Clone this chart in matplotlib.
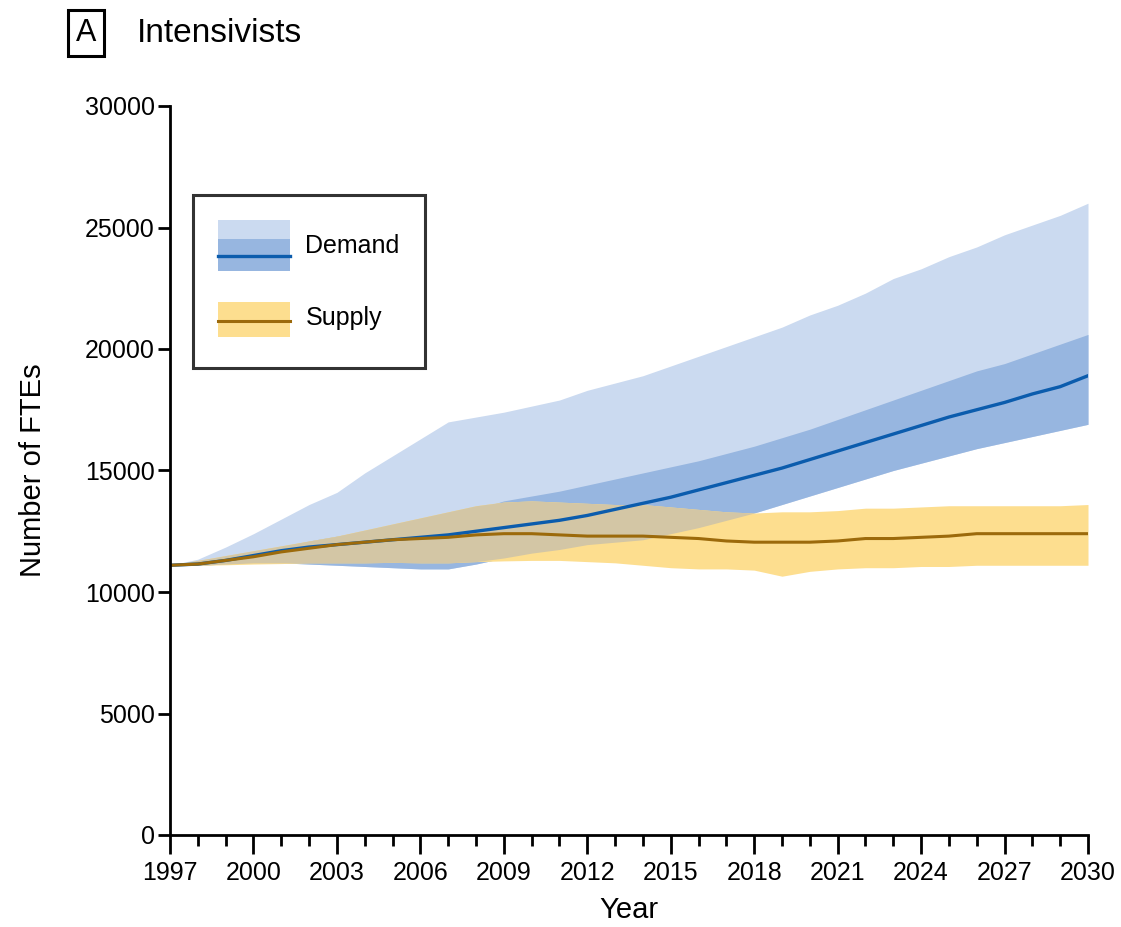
import matplotlib
matplotlib.use("Agg")
import matplotlib.pyplot as plt
import numpy as np
from matplotlib.patches import Rectangle
from matplotlib.lines import Line2D
from matplotlib.legend_handler import HandlerBase
from matplotlib.ticker import MultipleLocator

plt.rcParams['font.family'] = ['Liberation Sans Narrow', 'Liberation Sans', 'DejaVu Sans']

years = list(range(1997, 2031))

demand_mid = [11100, 11150, 11300, 11500, 11700, 11850, 11950, 12050, 12150, 12250,
              12350, 12500, 12650, 12800, 12950, 13150, 13400, 13650, 13900, 14200,
              14500, 14800, 15100, 15450, 15800, 16150, 16500, 16850, 17200, 17500,
              17800, 18150, 18450, 18900]
demand_inner_upper = [11100, 11150, 11350, 11600, 11850, 12100, 12300, 12500, 12700, 12900,
                      13100, 13400, 13750, 13950, 14150, 14400, 14650, 14900, 15150, 15400,
                      15700, 16000, 16350, 16700, 17100, 17500, 17900, 18300, 18700, 19100,
                      19400, 19800, 20200, 20600]
demand_outer_upper = [11100, 11350, 11850, 12400, 13000, 13600, 14100, 14900, 15600, 16300,
                      17000, 17200, 17400, 17650, 17900, 18300, 18600, 18900, 19300, 19700,
                      20100, 20500, 20900, 21400, 21800, 22300, 22900, 23300, 23800, 24200,
                      24700, 25100, 25500, 26000]
demand_lower = [11100, 11100, 11150, 11200, 11200, 11150, 11100, 11050, 11000, 10950,
                10950, 11150, 11400, 11600, 11750, 11950, 12050, 12150, 12400, 12650,
                12950, 13250, 13600, 13950, 14300, 14650, 15000, 15300, 15600, 15900,
                16150, 16400, 16650, 16900]

supply_mid = [11100, 11150, 11300, 11450, 11650, 11800, 11950, 12050, 12150, 12200,
              12250, 12350, 12400, 12400, 12350, 12300, 12300, 12300, 12250, 12200,
              12100, 12050, 12050, 12050, 12100, 12200, 12200, 12250, 12300, 12400,
              12400, 12400, 12400, 12400]
supply_upper = [11100, 11300, 11500, 11700, 11900, 12100, 12300, 12550, 12800, 13050,
                13300, 13550, 13700, 13750, 13700, 13650, 13600, 13600, 13500, 13400,
                13300, 13250, 13300, 13300, 13350, 13450, 13450, 13500, 13550, 13550,
                13550, 13550, 13550, 13600]
supply_lower = [11100, 11100, 11120, 11150, 11170, 11200, 11200, 11200, 11220, 11200,
                11200, 11250, 11280, 11300, 11300, 11250, 11200, 11100, 11000, 10950,
                10950, 10900, 10650, 10850, 10950, 11000, 11000, 11050, 11050, 11100,
                11100, 11100, 11100, 11100]

x_ticks = list(range(1997, 2031, 3))
y_ticks = [0, 5000, 10000, 15000, 20000, 25000, 30000]

LIGHT = '#cbdaf0'
MED = '#97b6e0'
DBLUE = '#0b5cad'
YEL = '#fdde8f'
TAN = '#d3c6a5'
GOLD = '#9c6a0b'

fig = plt.figure(figsize=(11.21, 9.27), dpi=100)
ax = fig.add_axes([170/1121, 1-835/927, 918/1121, 729/927])

x = np.array(years, dtype=float)
dl = np.array(demand_lower, float)
diu = np.array(demand_inner_upper, float)
dou = np.array(demand_outer_upper, float)
su = np.array(supply_upper, float)
sl = np.array(supply_lower, float)

ax.fill_between(x, dl, dou, color=LIGHT, lw=0)
ax.fill_between(x, dl, diu, color=MED, lw=0)
ax.fill_between(x, sl, su, color=YEL, lw=0)
olo = np.maximum(dl, sl)
ohi = np.minimum(dou, su)
ax.fill_between(x, olo, ohi, where=ohi > olo, interpolate=True, color=TAN, lw=0)
ax.plot(x, demand_mid, color=DBLUE, lw=2.4)
ax.plot(x, supply_mid, color=GOLD, lw=2.2)

ax.set_xlim(1997, 2030)
ax.set_ylim(0, 30000)
ax.set_xticks(x_ticks)
ax.set_xticklabels([str(t) for t in x_ticks])
ax.xaxis.set_minor_locator(MultipleLocator(1))
ax.set_yticks(y_ticks)
ax.set_yticklabels([str(t) for t in y_ticks])
for s in ['top', 'right']:
    ax.spines[s].set_visible(False)
for s in ['left', 'bottom']:
    ax.spines[s].set_linewidth(2)
    ax.spines[s].set_color('black')
ax.tick_params(axis='both', which='major', direction='out', width=2, labelsize=18, colors='black')
ax.tick_params(axis='x', which='major', length=14, pad=5)
ax.tick_params(axis='x', which='minor', length=8, width=2)
ax.tick_params(axis='y', which='major', length=9, pad=2)
ax.set_xlabel('Year', fontsize=21, labelpad=8)
ax.set_ylabel('Number of FTEs', fontsize=21, labelpad=27)


class DemandHandler(HandlerBase):
    def create_artists(self, legend, orig_handle, xdescent, ydescent, width, height, fontsize, trans):
        x0, y0 = -xdescent, -ydescent
        a = Rectangle((x0, y0), width, height, fc=LIGHT, ec='none', transform=trans)
        b = Rectangle((x0, y0), width, height * 0.63, fc=MED, ec='none', transform=trans)
        c = Line2D([x0, x0 + width], [y0 + height * 0.3] * 2, color=DBLUE, lw=2.4, transform=trans)
        return [a, b, c]


class SupplyHandler(HandlerBase):
    def create_artists(self, legend, orig_handle, xdescent, ydescent, width, height, fontsize, trans):
        x0, y0 = -xdescent, -ydescent
        a = Rectangle((x0, y0 + height * 0.12), width, height * 0.68, fc=YEL, ec='none', transform=trans)
        c = Line2D([x0, x0 + width], [y0 + height * 0.42] * 2, color=GOLD, lw=2.2, transform=trans)
        return [a, c]


class DemandProxy:
    pass


class SupplyProxy:
    pass


dp, sp = DemandProxy(), SupplyProxy()
leg = ax.legend([dp, sp], ['Demand', 'Supply'],
                handler_map={DemandProxy: DemandHandler(), SupplyProxy: SupplyHandler()},
                loc='upper left', bbox_to_anchor=(0.025, 0.878), borderaxespad=0,
                fontsize=18, handlelength=2.9, handleheight=2.75, handletextpad=0.6,
                labelspacing=0.85, borderpad=1.0, frameon=True, fancybox=False)
leg.get_frame().set_edgecolor('black')
leg.get_frame().set_linewidth(2.2)

fig.text(86/1121, 1-33/927, 'A', fontsize=22, ha='center', va='center',
         bbox=dict(boxstyle='square,pad=0.25', fc='white', ec='black', lw=2.2))
fig.text(137/1121, 1-33/927, 'Intensivists', fontsize=24, ha='left', va='center')

fig.savefig('out.png', dpi=100)
